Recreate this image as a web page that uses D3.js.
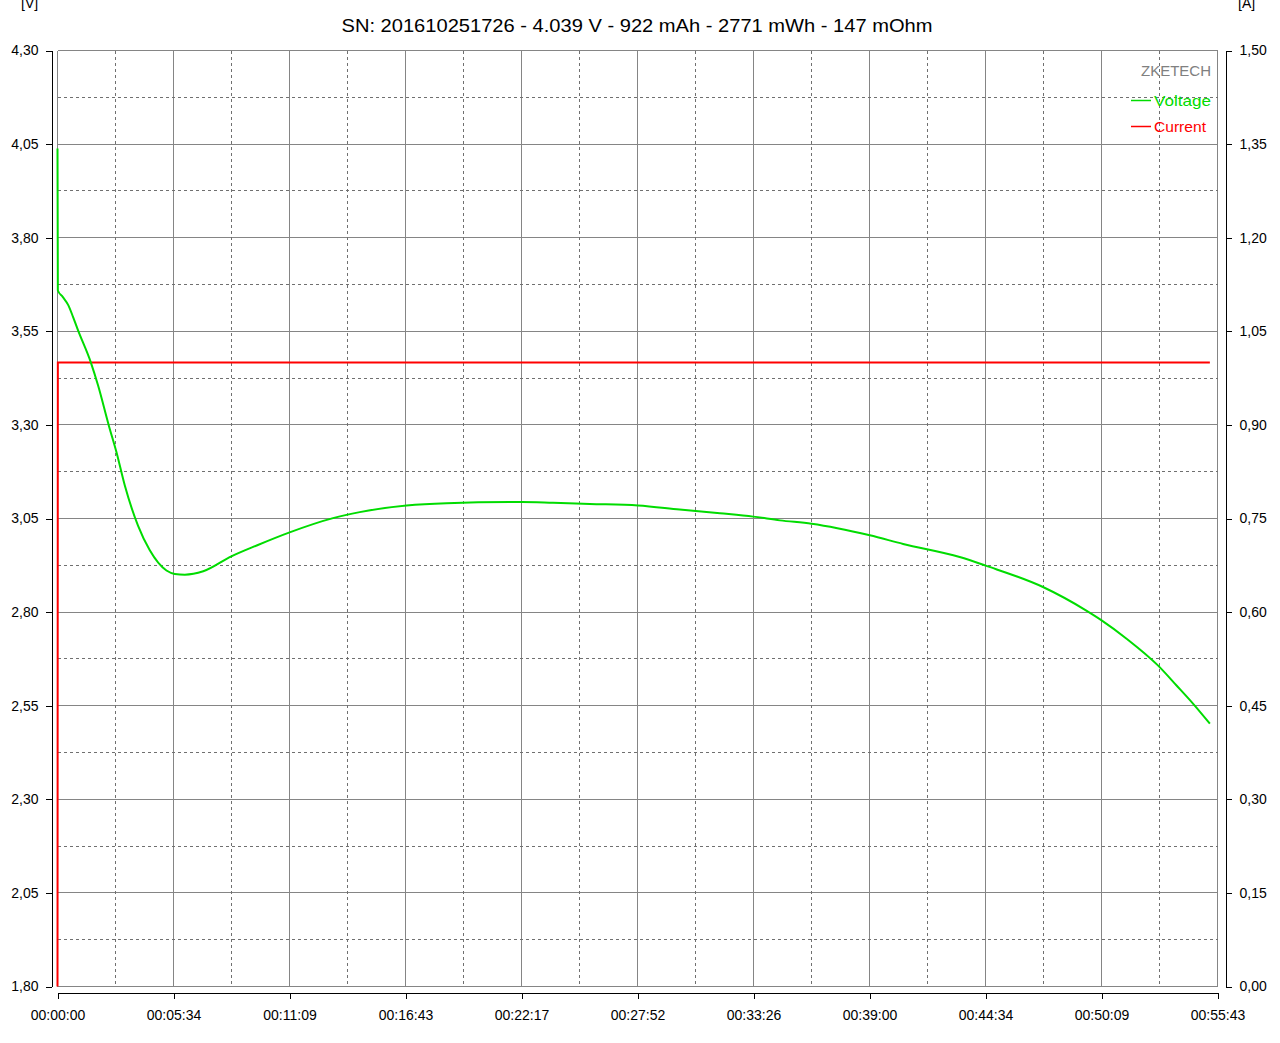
<!DOCTYPE html>
<html>
<head>
<meta charset="utf-8">
<script src="https://cdn.jsdelivr.net/npm/d3@7"></script>
<style>
  body { margin: 0; background: #fff; }
  svg { display: block; font-family: "Liberation Sans", Arial, sans-serif; }
  .axis path, .axis line { stroke: #000; shape-rendering: crispEdges; }
  .axis text { font-size: 14px; fill: #000; }
</style>
</head>
<body>
<div id="chart"></div>
<script>
// discharge log (seconds, volts / amps)
const timeSec = [0, 1, 15, 31, 45, 59, 96, 117, 148, 170, 194, 232, 266, 314, 338, 367, 420,
  501, 574, 669, 794, 871, 1006, 1121, 1337, 1428, 1534, 1673, 1793, 1909, 2005, 2082, 2173,
  2341, 2437, 2600, 2675, 2840, 2965, 3009, 3081, 3172, 3225, 3273, 3321];
const voltage = [4.038, 3.659, 3.642, 3.620, 3.588, 3.553, 3.467, 3.405, 3.298, 3.227, 3.138, 3.031,
  2.965, 2.911, 2.902, 2.900, 2.909, 2.949, 2.978, 3.013, 3.051, 3.067, 3.085, 3.091, 3.094,
  3.092, 3.089, 3.085, 3.074, 3.064, 3.055, 3.045, 3.036, 3.005, 2.982, 2.947, 2.924, 2.867, 2.804,
  2.778, 2.729, 2.657, 2.604, 2.555, 2.502];

const currentTime = [0, 1, 3321];
const current = [0.0, 1.0, 1.0];

const totalSec = 3343;
const vTicks = [4.30, 4.05, 3.80, 3.55, 3.30, 3.05, 2.80, 2.55, 2.30, 2.05, 1.80];
const aTicks = [1.50, 1.35, 1.20, 1.05, 0.90, 0.75, 0.60, 0.45, 0.30, 0.15, 0.00];
const xTickLabels = ["00:00:00", "00:05:34", "00:11:09", "00:16:43", "00:22:17", "00:27:52",
  "00:33:26", "00:39:00", "00:44:34", "00:50:09", "00:55:43"];

const title = "SN: 201610251726 - 4.039 V - 922 mAh - 2771 mWh - 147 mOhm";

const svgWidth = 1280;
const svgHeight = 1043;
const plot = { left: 57.5, right: 1217.5, top: 50.5, bottom: 986.5 };

const svg = d3.select("#chart")
  .append("svg")
  .attr("width", svgWidth)
  .attr("height", svgHeight);

const x = d3.scaleLinear().domain([0, totalSec]).range([plot.left, plot.right]);
const yV = d3.scaleLinear().domain([1.80, 4.30]).range([plot.bottom, plot.top]);
const yA = d3.scaleLinear().domain([0, 1.50]).range([plot.bottom, plot.top]);

const xTickVals = xTickLabels.map((d, i) => i * totalSec / 10);
const fmtComma = d => d.toFixed(2).replace(".", ",");

// grid: solid at major ticks, dashed halfway between
const grid = svg.append("g").attr("shape-rendering", "crispEdges");
const minorX = xTickVals.slice(1).map((d, i) => (d + xTickVals[i]) / 2);
const minorY = vTicks.slice(1).map((d, i) => (d + vTicks[i]) / 2);

grid.selectAll(".gx").data(xTickVals).enter().append("line")
  .attr("x1", d => x(d)).attr("x2", d => x(d))
  .attr("y1", plot.top).attr("y2", plot.bottom)
  .attr("stroke", "#858585");
grid.selectAll(".gy").data(vTicks).enter().append("line")
  .attr("y1", d => yV(d)).attr("y2", d => yV(d))
  .attr("x1", plot.left).attr("x2", plot.right)
  .attr("stroke", "#858585");
grid.selectAll(".mx").data(minorX).enter().append("line")
  .attr("x1", d => x(d)).attr("x2", d => x(d))
  .attr("y1", plot.top).attr("y2", plot.bottom)
  .attr("stroke", "#707070").attr("stroke-dasharray", "3,3");
grid.selectAll(".my").data(minorY).enter().append("line")
  .attr("y1", d => yV(d)).attr("y2", d => yV(d))
  .attr("x1", plot.left).attr("x2", plot.right)
  .attr("stroke", "#707070").attr("stroke-dasharray", "3,3");

// axes
svg.append("g")
  .attr("class", "axis")
  .attr("transform", "translate(51.5,0)")
  .call(d3.axisLeft(yV).tickValues(vTicks).tickFormat(fmtComma).tickSize(6).tickSizeOuter(0).tickPadding(7));

svg.append("g")
  .attr("class", "axis")
  .attr("transform", "translate(1225.5,0)")
  .call(d3.axisRight(yA).tickValues(aTicks).tickFormat(fmtComma).tickSize(6).tickSizeOuter(0).tickPadding(7))
  .selectAll("text").attr("x", 14);

svg.append("g")
  .attr("class", "axis")
  .attr("transform", "translate(0,992.5)")
  .call(d3.axisBottom(x).tickValues(xTickVals).tickFormat((d, i) => xTickLabels[i]).tickSize(6).tickSizeOuter(0).tickPadding(12));

// unit labels (cut at the top edge, as in the original)
svg.append("text").attr("x", 21).attr("y", 8).attr("font-size", 14).text("[V]");
svg.append("text").attr("x", 1238).attr("y", 8).attr("font-size", 14).text("[A]");

// title
svg.append("text")
  .attr("x", 637).attr("y", 32)
  .attr("text-anchor", "middle")
  .attr("font-size", 19)
  .attr("textLength", 591)
  .attr("lengthAdjust", "spacingAndGlyphs")
  .text(title);

// series
const vLine = d3.line()
  .x((d, i) => x(timeSec[i]))
  .y(d => yV(d))
  .curve(d3.curveMonotoneX);

const aLine = d3.line()
  .x((d, i) => x(currentTime[i]))
  .y(d => yA(d));

svg.append("path")
  .datum(current)
  .attr("d", aLine)
  .attr("fill", "none")
  .attr("stroke", "#ff0000")
  .attr("stroke-width", 2);

svg.append("path")
  .datum(voltage)
  .attr("d", vLine)
  .attr("fill", "none")
  .attr("stroke", "#00dc00")
  .attr("stroke-width", 2);

// legend
const legend = svg.append("g").attr("font-size", 15);
legend.append("text").attr("x", 1211).attr("y", 76)
  .attr("text-anchor", "end").attr("fill", "#808080").text("ZKETECH");

const items = [
  { name: "Voltage", color: "#00dc00", y: 106, w: 57 },
  { name: "Current", color: "#ff0000", y: 132, w: 52 }
];
items.forEach(it => {
  legend.append("text").attr("x", 1154).attr("y", it.y).attr("fill", it.color)
    .attr("textLength", it.w).attr("lengthAdjust", "spacingAndGlyphs").text(it.name);
  legend.append("line")
    .attr("x1", 1131).attr("x2", 1151)
    .attr("y1", it.y - 5.5).attr("y2", it.y - 5.5)
    .attr("stroke", it.color).attr("stroke-width", 1.5);
});
</script>
</body>
</html>
